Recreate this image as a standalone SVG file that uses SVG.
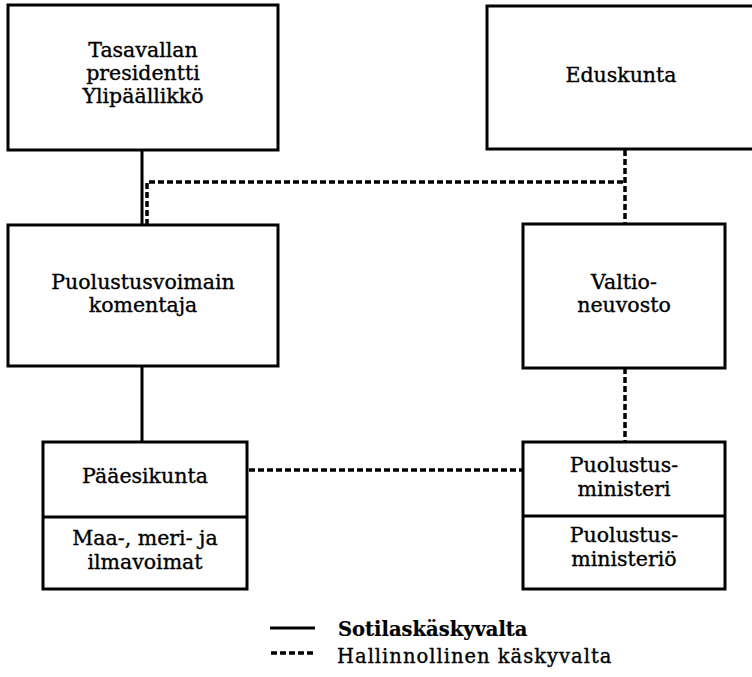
<svg xmlns="http://www.w3.org/2000/svg" width="752" height="677" viewBox="0 0 752 677">
  <style>
    .box { fill: #fff; stroke: #000; stroke-width: 3; }
    .div { stroke: #000; stroke-width: 3; }
    .solid { stroke: #000; stroke-width: 3; fill: none; }
    .dash { stroke: #000; stroke-width: 3.5; fill: none; stroke-dasharray: 6 3; }
    text { font-family: "DejaVu Serif", "Liberation Serif", serif; font-size: 20.5px; fill: #000; stroke: #000; stroke-width: 0.35; text-anchor: middle; }
    .legend { text-anchor: start; font-size: 19.5px; }
    .bold { font-weight: bold; letter-spacing: 0; stroke-width: 0.2; }
    .plain { letter-spacing: 1px; }
  </style>
  <rect width="752" height="677" fill="#fff"/>

  <!-- connectors -->
  <g id="connectors">
    <line class="solid" x1="142" y1="150" x2="142" y2="225"/>
    <polyline class="dash" points="147,225 147,182 625,182"/>
    <line class="dash" x1="625" y1="150" x2="625" y2="224"/>
    <line class="solid" x1="142" y1="366" x2="142" y2="442"/>
    <line class="dash" x1="625" y1="368" x2="625" y2="442"/>
    <line class="dash" x1="249" y1="470" x2="522" y2="470"/>
  </g>

  <g id="presidentti">
    <rect class="box" x="8" y="5" width="270" height="145"/>
    <text x="143" y="57">Tasavallan</text>
    <text x="143" y="80">presidentti</text>
    <text x="143" y="103">Ylipäällikkö</text>
  </g>

  <g id="eduskunta">
    <rect class="box" x="487" y="6" width="270" height="143"/>
    <text x="621" y="82">Eduskunta</text>
  </g>

  <g id="komentaja">
    <rect class="box" x="8" y="225" width="270" height="141"/>
    <text x="143" y="289">Puolustusvoimain</text>
    <text x="143" y="312">komentaja</text>
  </g>

  <g id="valtioneuvosto">
    <rect class="box" x="523" y="224" width="202" height="144"/>
    <text x="624" y="289">Valtio-</text>
    <text x="624" y="312">neuvosto</text>
  </g>

  <g id="paaesikunta">
    <rect class="box" x="43" y="442" width="204" height="147"/>
    <line class="div" x1="43" y1="517" x2="247" y2="517"/>
    <text x="145" y="483">Pääesikunta</text>
    <text x="145" y="545">Maa-, meri- ja</text>
    <text x="145" y="569">ilmavoimat</text>
  </g>

  <g id="puolustusministeri">
    <rect class="box" x="523" y="442" width="202" height="147"/>
    <line class="div" x1="523" y1="516" x2="725" y2="516"/>
    <text x="624" y="472">Puolustus-</text>
    <text x="624" y="496">ministeri</text>
    <text x="624" y="542">Puolustus-</text>
    <text x="624" y="566">ministeriö</text>
  </g>

  <g id="legend">
    <line class="solid" x1="270" y1="628" x2="315" y2="628"/>
    <text class="legend bold" x="338" y="636">Sotilaskäskyvalta</text>
    <line class="dash" x1="271" y1="653" x2="313" y2="653"/>
    <text class="legend plain" x="337" y="663">Hallinnollinen  käskyvalta</text>
  </g>
</svg>
